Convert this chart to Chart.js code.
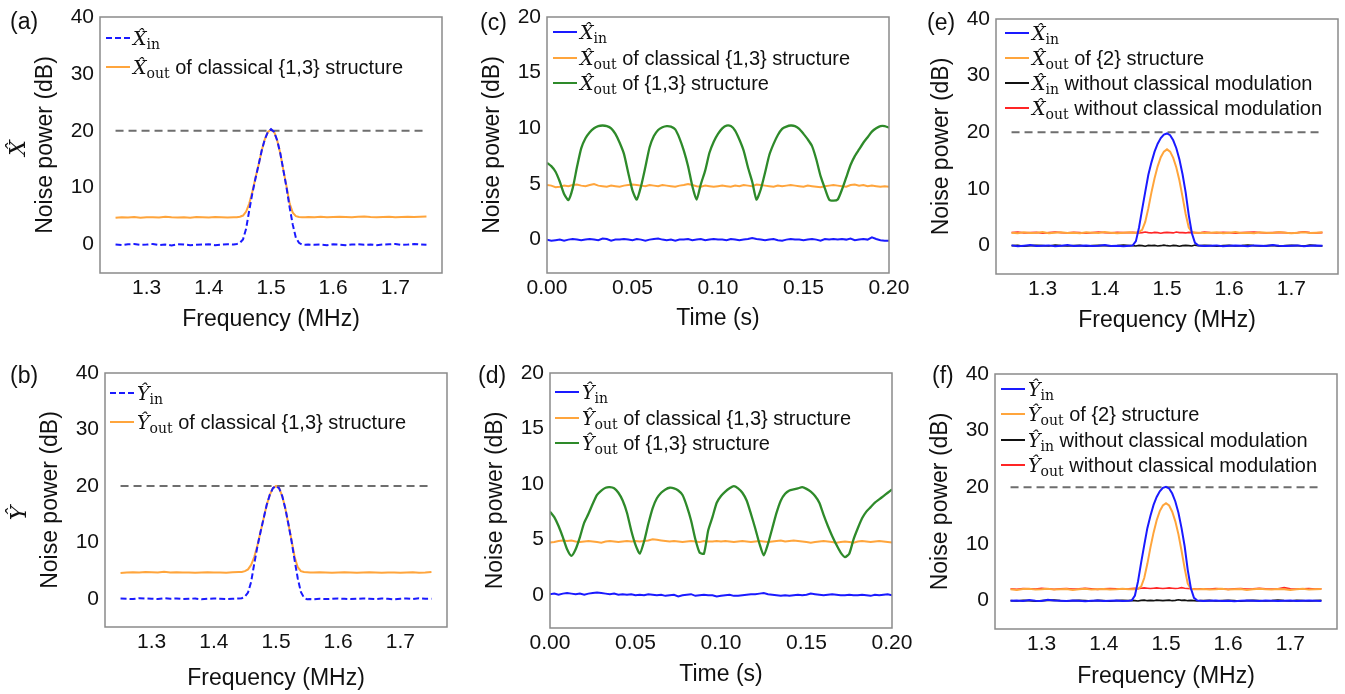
<!DOCTYPE html>
<html>
<head>
<meta charset="utf-8">
<script src="https://cdn.jsdelivr.net/npm/chart.js@4.4.1/dist/chart.umd.min.js"></script>
<style>
  html, body { margin: 0; padding: 0; background: #fff; }
  #fig { position: relative; width: 1345px; height: 694px; overflow: hidden; font-family: "Liberation Sans", Arial, sans-serif; color: #111; }
  #fig canvas { position: absolute; left: 0; top: 0; }
  .plabel { position: absolute; font-size: 23px; line-height: 23px; white-space: nowrap; }
  .rowlabel { position: absolute; font-family: "DejaVu Serif", serif; font-style: italic; font-size: 22px; line-height: 22px; transform: translate(-50%, -50%) rotate(-90deg); }
  .lrow { position: absolute; height: 24px; line-height: 24px; font-size: 20px; white-space: nowrap; }
  .sw { position: absolute; left: 0; top: 11px; width: 24px; height: 2px; }
  .lt { position: absolute; left: 27px; top: 0; }
  .m { font-family: "DejaVu Serif", serif; font-style: italic; font-size: 19px; }
  .m sub { font-style: normal; font-size: 14px; vertical-align: -4px; line-height: 0; }
</style>
</head>
<body>
<div id="fig"></div>
<script>
// ---- data ----
const freqMHz = [1.25,1.26,1.27,1.28,1.29,1.30,1.31,1.32,1.33,1.34,1.35,1.36,1.37,1.38,1.39,1.40,1.41,1.42,1.43,1.44,
  1.445,1.45,1.455,1.46,1.465,1.47,1.475,1.48,1.485,1.49,1.495,1.50,1.505,1.51,1.515,1.52,1.525,1.53,1.535,1.54,1.545,1.55,1.555,
  1.56,1.57,1.58,1.59,1.60,1.61,1.62,1.63,1.64,1.65,1.66,1.67,1.68,1.69,1.70,1.71,1.72,1.73,1.74,1.75];

const timeS = [0.0000,0.0025,0.0050,0.0075,0.0100,0.0125,0.0150,0.0175,0.0200,0.0225,
  0.0250,0.0275,0.0300,0.0325,0.0350,0.0375,0.0400,0.0425,0.0450,0.0475,
  0.0500,0.0525,0.0550,0.0575,0.0600,0.0625,0.0650,0.0675,0.0700,0.0725,
  0.0750,0.0775,0.0800,0.0825,0.0850,0.0875,0.0900,0.0925,0.0950,0.0975,
  0.1000,0.1025,0.1050,0.1075,0.1100,0.1125,0.1150,0.1175,0.1200,0.1225,
  0.1250,0.1275,0.1300,0.1325,0.1350,0.1375,0.1400,0.1425,0.1450,0.1475,
  0.1500,0.1525,0.1550,0.1575,0.1600,0.1625,0.1650,0.1675,0.1700,0.1725,
  0.1750,0.1775,0.1800,0.1825,0.1850,0.1875,0.1900,0.1925,0.1950,0.1975,0.2000];

const refLineX = [1.25, 1.75];
const refLineY = [20, 20];

const freqXTicks = [1.3, 1.4, 1.5, 1.6, 1.7];
const freqYTicks = [0, 10, 20, 30, 40];
const timeXTicks = [0, 0.05, 0.10, 0.15, 0.20];
const timeYTicks = [0, 5, 10, 15, 20];

// (a)
const aXin = [0.0,-0.1,0.05,0.1,-0.05,0.0,0.1,-0.1,0.0,-0.15,0.05,0.0,-0.1,-0.05,0.0,0.05,-0.1,0.0,0.05,0.0,
  0.1,0.3,0.9,2.8,6.0,9.0,11.6,14.0,16.5,18.5,19.8,20.3,19.8,18.3,16.0,13.0,10.0,6.5,3.5,1.2,0.3,0.0,-0.05,
  0.0,-0.05,0.0,-0.1,0.05,0.0,-0.1,0.0,0.05,-0.05,0.0,-0.1,0.0,0.05,0.1,-0.05,0.0,0.1,0.0,-0.05];
const aXout = [4.7,4.8,4.75,4.85,4.7,4.8,4.8,4.75,4.9,4.8,4.75,4.8,4.7,4.85,4.8,4.75,4.85,4.8,4.75,4.8,
  4.8,4.9,5.1,5.8,7.2,9.3,11.7,14.0,16.5,18.5,19.8,20.2,19.8,18.3,16.0,13.0,10.2,7.2,5.6,5.0,4.85,4.8,4.8,
  4.85,4.8,4.9,4.8,4.85,4.9,4.85,4.8,4.9,4.95,4.85,4.8,4.85,4.9,4.8,4.85,4.9,4.85,4.9,4.95];

// (b)
const bYin = [0.05,0.0,-0.05,0.1,0.05,0.0,-0.05,0.1,0.0,0.05,-0.05,0.0,0.05,-0.1,0.0,0.05,0.0,-0.05,0.0,0.05,
  0.1,0.4,1.1,3.0,6.2,9.2,11.8,14.2,16.6,18.4,19.6,20.0,19.6,18.2,16.0,13.2,10.2,6.8,3.6,1.2,0.2,-0.1,-0.05,
  -0.1,0.0,-0.05,0.0,0.05,0.0,-0.05,0.0,0.05,0.0,-0.05,0.05,0.0,-0.1,0.0,0.05,-0.05,0.1,0.0,0.0];
const bYout = [4.55,4.65,4.7,4.65,4.75,4.7,4.65,4.8,4.65,4.7,4.65,4.65,4.6,4.65,4.7,4.65,4.65,4.6,4.7,4.75,
  4.75,4.9,5.2,6.0,7.4,9.4,11.8,14.2,16.6,18.4,19.6,20.0,19.6,18.2,16.0,13.2,10.4,7.4,5.6,4.9,4.75,4.7,4.65,
  4.65,4.7,4.65,4.6,4.65,4.7,4.65,4.6,4.65,4.7,4.65,4.6,4.65,4.65,4.6,4.65,4.7,4.6,4.65,4.75];

// (c)
const cXin = [0.0,-0.1,-0.05,0.0,-0.1,0.0,0.05,0.0,-0.05,0.0,
  0.05,0.0,-0.05,0.1,0.05,-0.1,0.0,0.0,0.05,0.0,
  -0.05,0.05,0.0,-0.1,0.0,0.05,0.1,0.0,-0.05,0.0,
  -0.1,0.0,0.0,0.05,-0.05,0.0,0.05,-0.05,0.0,0.05,
  0.0,0.0,-0.05,0.05,0.0,-0.05,0.0,0.05,0.15,0.05,
  0.0,-0.05,0.0,0.05,-0.05,-0.1,0.0,0.05,0.0,0.0,
  -0.05,0.0,0.05,0.0,-0.1,0.05,0.0,0.05,0.0,0.05,
  0.0,0.1,-0.05,0.0,0.05,0.0,0.2,0.05,-0.05,-0.1,-0.1];
const cXoutClassical = [4.9,4.85,4.7,4.75,4.85,4.8,4.9,4.95,4.85,4.8,
  4.9,5.0,4.85,4.8,4.75,4.85,4.8,4.75,4.85,4.9,
  4.95,4.9,4.85,4.8,4.9,4.85,4.8,4.9,4.85,4.8,
  4.75,4.85,4.9,5.0,4.9,4.8,4.75,4.85,4.8,4.75,
  4.8,4.85,4.8,4.75,4.85,4.8,4.9,4.85,4.8,4.95,
  4.9,4.85,4.8,4.75,4.85,4.8,4.85,4.9,4.85,4.8,
  4.75,4.85,4.8,4.75,4.7,4.8,4.85,4.9,4.85,4.8,
  4.75,4.9,4.95,4.85,4.9,4.8,4.85,4.8,4.75,4.8,4.75];
const cXout13 = [6.9,6.6,6.1,5.2,4.1,3.55,4.6,6.5,8.2,9.1,
  9.65,10.0,10.2,10.25,10.2,10.0,9.5,8.7,7.7,6.0,
  4.4,3.6,4.8,6.5,8.3,9.3,9.85,10.1,10.2,10.15,
  9.9,9.1,8.0,6.6,4.8,3.6,5.0,6.2,7.8,8.8,
  9.5,10.0,10.25,10.2,9.8,9.0,8.0,6.5,5.2,3.6,
  4.5,6.0,7.6,8.6,9.4,9.95,10.15,10.25,10.2,9.95,
  9.5,9.0,8.4,7.2,5.7,4.6,3.6,3.5,3.6,4.5,
  5.6,6.7,7.5,8.1,8.7,9.2,9.7,10.0,10.2,10.2,10.05];

// (d)
const dYin = [0.05,0.1,0.0,0.1,0.15,0.1,0.05,0.1,0.0,0.1,
  0.15,0.2,0.15,0.1,0.05,0.1,0.0,0.05,0.0,0.05,
  -0.05,0.0,-0.05,0.05,0.0,-0.05,0.0,-0.1,-0.05,0.0,
  -0.15,-0.05,0.0,0.05,-0.1,-0.05,0.0,-0.05,-0.05,-0.15,
  -0.1,-0.05,0.0,-0.1,-0.1,-0.05,0.0,0.05,0.05,0.1,
  0.15,0.05,0.0,-0.05,-0.1,-0.05,-0.1,-0.05,0.0,-0.05,
  0.0,0.1,0.05,0.0,-0.05,0.0,0.05,0.0,-0.05,-0.05,
  0.0,-0.05,-0.05,0.0,-0.05,-0.1,0.0,-0.05,0.0,0.05,-0.05];
const dYoutClassical = [4.7,4.75,4.85,4.9,4.85,4.9,4.8,4.75,4.8,4.85,
  4.8,4.75,4.7,4.8,4.85,4.8,4.75,4.8,4.85,4.8,
  4.85,4.8,4.85,4.9,5.0,4.95,4.9,4.85,4.8,4.85,
  4.8,4.75,4.8,4.85,4.8,4.75,4.85,4.8,4.8,4.85,
  4.8,4.85,4.8,4.75,4.8,4.85,4.8,4.75,4.8,4.85,
  4.8,4.75,4.8,4.85,4.9,4.8,4.85,4.9,4.85,4.8,
  4.75,4.7,4.75,4.8,4.85,4.8,4.75,4.7,4.75,4.8,
  4.75,4.7,4.8,4.85,4.8,4.75,4.8,4.85,4.8,4.75,4.7];
const dYout13 = [7.5,7.0,6.2,5.2,4.1,3.5,4.1,5.2,6.5,7.3,
  8.2,9.0,9.4,9.65,9.7,9.6,9.2,8.5,7.4,5.8,
  4.5,3.7,4.8,6.4,7.8,8.7,9.2,9.5,9.65,9.6,
  9.4,9.0,8.0,6.7,5.0,3.8,3.7,5.8,7.0,8.3,
  8.9,9.3,9.6,9.8,9.6,9.2,8.5,7.3,6.0,4.6,
  3.55,4.6,6.0,7.4,8.5,9.1,9.4,9.5,9.6,9.7,
  9.55,9.3,8.9,8.3,7.2,6.2,5.3,4.5,3.8,3.4,
  3.7,5.0,6.0,6.9,7.5,7.9,8.3,8.6,8.9,9.2,9.5];

// (e)
const eXin = [0.05,-0.1,0.0,0.1,-0.05,0.0,0.05,-0.1,0.0,0.1,-0.05,0.0,0.05,-0.05,0.0,0.1,-0.05,0.0,-0.1,0.0,
  0.05,0.8,3.2,6.4,9.5,12.5,14.7,16.6,18.0,19.0,19.6,19.8,19.5,18.6,17.2,15.2,12.6,9.4,5.4,2.2,0.5,0.05,0.0,
  -0.05,0.0,0.05,-0.1,0.0,0.05,0.0,-0.1,0.05,0.0,-0.05,0.1,0.0,-0.05,0.0,0.05,-0.1,0.0,0.05,0.0];
const eXout2 = [2.3,2.2,2.35,2.25,2.3,2.4,2.2,2.3,2.35,2.25,2.3,2.2,2.35,2.3,2.25,2.4,2.3,2.2,2.3,2.35,
  2.3,2.3,2.4,2.8,4.2,6.6,9.4,11.9,14.0,15.6,16.6,17.0,16.6,15.5,13.8,11.5,8.6,5.6,3.2,2.4,2.3,2.3,2.3,
  2.25,2.3,2.35,2.2,2.3,2.4,2.25,2.3,2.2,2.35,2.3,2.25,2.4,2.3,2.2,2.3,2.35,2.25,2.3,2.35];
const eXinNoMod = [0.0,0.05,-0.1,0.0,0.05,0.0,-0.05,0.1,0.0,-0.05,0.0,0.05,-0.1,0.0,0.05,0.0,-0.05,0.0,0.1,0.0,
  0.0,-0.05,0.05,0.0,-0.1,0.05,0.0,0.05,-0.05,0.0,0.1,0.0,-0.05,0.05,0.0,-0.1,0.0,0.05,0.0,-0.05,0.1,0.0,0.0,
  0.05,0.0,-0.1,0.0,0.05,-0.05,0.0,0.1,0.0,-0.05,0.0,0.05,-0.1,0.0,0.05,0.0,-0.05,0.1,0.0,-0.05];
const eXoutNoMod = [2.3,2.4,2.25,2.3,2.35,2.2,2.3,2.4,2.3,2.25,2.35,2.3,2.2,2.3,2.4,2.3,2.25,2.35,2.3,2.3,
  2.35,2.3,2.25,2.3,2.4,2.3,2.25,2.35,2.3,2.2,2.3,2.35,2.3,2.25,2.4,2.3,2.3,2.25,2.35,2.3,2.3,2.25,2.3,
  2.4,2.3,2.25,2.35,2.3,2.2,2.3,2.35,2.4,2.3,2.25,2.3,2.35,2.3,2.2,2.3,2.45,2.3,2.25,2.3];

// (f)
const fYin = [0.0,0.05,-0.05,0.1,0.0,-0.05,0.15,0.05,0.0,-0.05,0.05,0.0,-0.1,0.0,0.05,-0.05,0.0,0.05,-0.05,0.0,
  0.05,0.9,3.4,6.7,9.8,12.8,15.0,16.9,18.3,19.3,19.9,20.1,19.8,18.9,17.5,15.5,12.8,9.6,5.4,2.2,0.5,0.05,0.0,
  -0.05,0.0,0.05,-0.05,0.0,-0.1,0.0,0.05,0.0,-0.05,0.05,0.0,-0.05,0.0,0.05,-0.05,0.0,0.05,0.0,-0.05];
const fYout2 = [2.0,1.9,2.05,2.1,1.95,2.0,2.1,1.95,2.0,2.05,1.9,2.0,2.1,1.95,2.0,2.05,1.95,2.0,2.1,2.0,
  2.0,2.0,2.1,2.5,4.0,6.5,9.4,12.0,14.2,15.8,16.8,17.2,16.8,15.7,14.0,11.7,8.8,5.7,3.0,2.1,2.0,2.0,2.0,
  2.05,1.95,2.0,2.1,1.95,2.0,2.05,1.9,2.0,2.1,2.0,1.95,2.05,2.0,1.9,2.0,2.1,1.95,2.0,2.05];
const fYinNoMod = [0.0,-0.05,0.05,0.0,-0.1,0.0,0.05,0.1,0.0,-0.05,0.0,0.05,0.0,-0.05,0.05,0.0,-0.1,0.0,0.05,0.0,
  0.05,0.0,-0.05,0.05,0.1,0.0,0.05,0.0,0.1,0.05,0.0,0.05,0.1,0.0,0.05,0.15,0.05,0.1,0.0,0.05,0.0,-0.05,0.0,
  0.0,0.05,-0.05,0.0,0.05,0.0,-0.1,0.0,0.05,0.0,-0.05,0.0,0.1,0.0,-0.05,0.05,0.0,-0.05,0.0,0.05];
const fYoutNoMod = [2.1,2.0,2.15,2.1,2.05,2.2,2.1,2.0,2.1,2.15,2.05,2.1,2.2,2.1,2.0,2.1,2.15,2.1,2.05,2.1,
  2.15,2.2,2.1,2.2,2.25,2.2,2.15,2.2,2.25,2.2,2.15,2.2,2.25,2.2,2.15,2.2,2.3,2.2,2.15,2.1,2.1,2.05,2.1,
  2.1,2.05,2.15,2.1,2.0,2.1,2.15,2.05,2.1,2.2,2.1,2.05,2.1,2.3,2.1,2.05,2.1,2.15,2.05,2.1];

// ---- styling ----
const FIG_W = 1345, FIG_H = 694;
const Y_W = 90, X_H = 60;
const BLUE = "#1a1aff", ORANGE = "#ffa53c", GREEN = "#2e8a2a", RED = "#ff2525", BLACK = "#111111", GRAY = "#6e6e6e";
const FONT = "'Liberation Sans', Arial, sans-serif";

function pts(xs, ys) { return xs.map((x, i) => ({ x: x, y: ys[i] })); }

function line(xs, ys, color, extra) {
  return Object.assign({
    data: pts(xs, ys), borderColor: color, borderWidth: 2,
    pointRadius: 0, tension: 0, fill: false
  }, extra || {});
}

function refLine() {
  return line(refLineX, refLineY, GRAY, { borderDash: [8, 5], borderWidth: 2 });
}

const frameBox = {
  id: "frameBox",
  afterDraw(chart) {
    const { ctx, chartArea: a } = chart;
    ctx.save();
    ctx.strokeStyle = "#8a8a8a";
    ctx.lineWidth = 1.5;
    ctx.strokeRect(a.left, a.top, a.right - a.left, a.bottom - a.top);
    ctx.restore();
  }
};

const freqAxis = { min: 1.225, max: 1.775, ticks: freqXTicks, fmt: v => v.toFixed(1), title: "Frequency (MHz)" };
const timeAxis = { min: 0, max: 0.2, ticks: timeXTicks, fmt: v => v.toFixed(2), title: "Time (s)" };

// panels: plot area in page pixels, datasets listed top-most first
const panels = [
  { area: { l: 100, t: 17, r: 442, b: 273 }, x: freqAxis, yMin: -5, yMax: 40, yTicks: freqYTicks, xPad: 0,
    datasets: [line(freqMHz, aXin, BLUE, { borderDash: [6, 3] }), line(freqMHz, aXout, ORANGE), refLine()] },
  { area: { l: 105, t: 373, r: 447, b: 627 }, x: freqAxis, yMin: -5, yMax: 40, yTicks: freqYTicks, xPad: -5,
    datasets: [line(freqMHz, bYin, BLUE, { borderDash: [6, 3] }), line(freqMHz, bYout, ORANGE), refLine()] },
  { area: { l: 547, t: 17, r: 889, b: 273 }, x: timeAxis, yMin: -3, yMax: 20, yTicks: timeYTicks, xPad: 1,
    datasets: [line(timeS, cXout13, GREEN, { borderWidth: 2.3, tension: 0.2 }), line(timeS, cXoutClassical, ORANGE), line(timeS, cXin, BLUE)] },
  { area: { l: 550, t: 373, r: 892, b: 628 }, x: timeAxis, yMin: -3, yMax: 20, yTicks: timeYTicks, xPad: 0,
    datasets: [line(timeS, dYout13, GREEN, { borderWidth: 2.3, tension: 0.2 }), line(timeS, dYoutClassical, ORANGE), line(timeS, dYin, BLUE)] },
  { area: { l: 996, t: 19, r: 1338, b: 274 }, x: freqAxis, yMin: -5, yMax: 40, yTicks: freqYTicks, xPad: 0,
    datasets: [line(freqMHz, eXin, BLUE), line(freqMHz, eXout2, ORANGE), line(freqMHz, eXinNoMod, BLACK, { borderWidth: 1.6 }),
               line(freqMHz, eXoutNoMod, RED, { borderWidth: 1.6 }), refLine()] },
  { area: { l: 995, t: 374, r: 1337, b: 629 }, x: freqAxis, yMin: -5, yMax: 40, yTicks: freqYTicks, xPad: -1,
    datasets: [line(freqMHz, fYin, BLUE), line(freqMHz, fYout2, ORANGE), line(freqMHz, fYinNoMod, BLACK, { borderWidth: 1.6 }),
               line(freqMHz, fYoutNoMod, RED, { borderWidth: 1.6 }), refLine()] }
];

const fig = document.getElementById("fig");

panels.forEach(p => {
  const cv = document.createElement("canvas");
  cv.width = FIG_W; cv.height = FIG_H;
  cv.style.width = FIG_W + "px"; cv.style.height = FIG_H + "px";
  fig.appendChild(cv);
  const a = p.area;
  new Chart(cv, {
    type: "line",
    data: { datasets: p.datasets },
    options: {
      responsive: false, animation: false, events: [],
      layout: { padding: { left: a.l - Y_W, top: a.t, right: FIG_W - a.r, bottom: FIG_H - a.b - X_H } },
      plugins: { legend: { display: false }, tooltip: { enabled: false } },
      scales: {
        x: {
          type: "linear", min: p.x.min, max: p.x.max,
          afterBuildTicks: s => { s.ticks = p.x.ticks.map(v => ({ value: v })); },
          afterFit: s => { s.height = X_H; s.paddingLeft = 0; s.paddingRight = 0; },
          grid: { display: false, drawTicks: false }, border: { display: false },
          ticks: { font: { family: FONT, size: 21 }, color: "#111", padding: 3, maxRotation: 0, autoSkip: false,
                   callback: v => p.x.fmt(v) },
          title: { display: true, text: p.x.title, font: { family: FONT, size: 23 }, color: "#111",
                   padding: { top: 0, bottom: p.xPad } }
        },
        y: {
          type: "linear", min: p.yMin, max: p.yMax,
          afterBuildTicks: s => { s.ticks = p.yTicks.map(v => ({ value: v })); },
          afterFit: s => { s.width = Y_W; s.paddingTop = 0; s.paddingBottom = 0; },
          grid: { display: false, drawTicks: false }, border: { display: false },
          ticks: { font: { family: FONT, size: 21 }, color: "#111", padding: 6, callback: v => String(v) },
          title: { display: true, text: "Noise power (dB)", font: { family: FONT, size: 23 }, color: "#111",
                   padding: { top: 22, bottom: 0 } }
        }
      }
    },
    plugins: [frameBox]
  });
});

// ---- legends, panel tags, row labels (HTML text) ----
function op(base, sub) { return '<span class="m">' + base + '&#x302;<sub>' + sub + '</sub></span>'; }

const legends = [
  { x: 106, y: 38, dy: 29, items: [
    { c: BLUE, dash: true, t: op("X", "in") },
    { c: ORANGE, t: op("X", "out") + " of classical {1,3} structure" } ] },
  { x: 110, y: 393, dy: 29, items: [
    { c: BLUE, dash: true, t: op("Y", "in") },
    { c: ORANGE, t: op("Y", "out") + " of classical {1,3} structure" } ] },
  { x: 553, y: 32, dy: 25.5, items: [
    { c: BLUE, t: op("X", "in") },
    { c: ORANGE, t: op("X", "out") + " of classical {1,3} structure" },
    { c: GREEN, t: op("X", "out") + " of {1,3} structure" } ] },
  { x: 555, y: 392, dy: 25.5, items: [
    { c: BLUE, t: op("Y", "in") },
    { c: ORANGE, t: op("Y", "out") + " of classical {1,3} structure" },
    { c: GREEN, t: op("Y", "out") + " of {1,3} structure" } ] },
  { x: 1005, y: 33, dy: 25, items: [
    { c: BLUE, t: op("X", "in") },
    { c: ORANGE, t: op("X", "out") + " of {2} structure" },
    { c: BLACK, t: op("X", "in") + " without classical modulation" },
    { c: RED, t: op("X", "out") + " without classical modulation" } ] },
  { x: 1001, y: 389, dy: 25.3, items: [
    { c: BLUE, t: op("Y", "in") },
    { c: ORANGE, t: op("Y", "out") + " of {2} structure" },
    { c: BLACK, t: op("Y", "in") + " without classical modulation" },
    { c: RED, t: op("Y", "out") + " without classical modulation" } ] }
];

legends.forEach(lg => {
  lg.items.forEach((it, i) => {
    const row = document.createElement("div");
    row.className = "lrow";
    row.style.left = lg.x + "px";
    row.style.top = (lg.y + i * lg.dy - 12) + "px";
    const sw = document.createElement("div");
    sw.className = "sw";
    sw.style.background = it.dash
      ? "repeating-linear-gradient(90deg, " + it.c + " 0 6px, transparent 6px 9px)"
      : it.c;
    const tx = document.createElement("div");
    tx.className = "lt";
    tx.innerHTML = it.t;
    row.appendChild(sw);
    row.appendChild(tx);
    fig.appendChild(row);
  });
});

const tags = [["(a)", 10, 10], ["(c)", 480, 11], ["(e)", 927, 11], ["(b)", 10, 364], ["(d)", 478, 364], ["(f)", 932, 364]];
tags.forEach(([t, x, y]) => {
  const d = document.createElement("div");
  d.className = "plabel";
  d.style.left = x + "px"; d.style.top = y + "px";
  d.textContent = t;
  fig.appendChild(d);
});

[["X\u0302", 18, 148], ["Y\u0302", 19, 513]].forEach(([t, x, y]) => {
  const d = document.createElement("div");
  d.className = "rowlabel";
  d.style.left = x + "px"; d.style.top = y + "px";
  d.textContent = t;
  fig.appendChild(d);
});
</script>
</body>
</html>
